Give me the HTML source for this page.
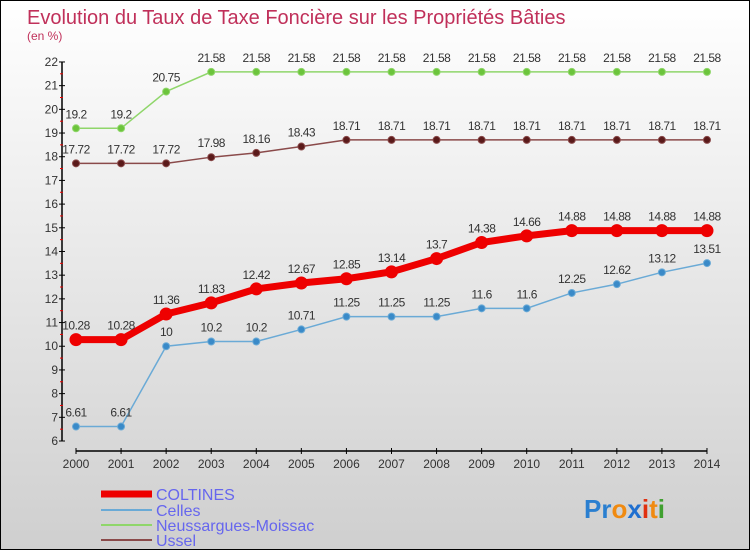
<!DOCTYPE html>
<html><head><meta charset="utf-8"><style>
body{margin:0}
#c{position:relative;width:748px;height:548px;border:1px solid #000;background:linear-gradient(#ffffff,#cfcfcf);font-family:"Liberation Sans",sans-serif;overflow:hidden}
</style></head><body>
<div id="c">
<svg id="s" width="748" height="548" style="position:absolute;left:0;top:0">
<text x="26" y="23" font-size="20" fill="#c0305a">Evolution du Taux de Taxe Foncière sur les Propriétés Bâties</text>
<text x="26" y="39" font-size="12" fill="#c0305a">(en %)</text>
<g id="axes"></g><g id="series"></g><g id="legend"></g>
<text x="583" y="517" font-size="26" font-weight="bold"><tspan fill="#2a7fd0">Pr</tspan><tspan fill="#f08a10">o</tspan><tspan fill="#1f6fd0">x</tspan><tspan fill="#e03010">i</tspan><tspan fill="#f08a10">t</tspan><tspan fill="#40a030">i</tspan></text>
</svg>
</div>
<script>
const years=[2000,2001,2002,2003,2004,2005,2006,2007,2008,2009,2010,2011,2012,2013,2014];
const coltines=[10.28,10.28,11.36,11.83,12.42,12.67,12.85,13.14,13.7,14.38,14.66,14.88,14.88,14.88,14.88];
const celles=[6.61,6.61,10,10.2,10.2,10.71,11.25,11.25,11.25,11.6,11.6,12.25,12.62,13.12,13.51];
const neuss=[19.2,19.2,20.75,21.58,21.58,21.58,21.58,21.58,21.58,21.58,21.58,21.58,21.58,21.58,21.58];
const ussel=[17.72,17.72,17.72,17.98,18.16,18.43,18.71,18.71,18.71,18.71,18.71,18.71,18.71,18.71,18.71];
const yTicks=[6,7,8,9,10,11,12,13,14,15,16,17,18,19,20,21,22];
const NS='http://www.w3.org/2000/svg';
const X=i=>75+i*45.07, Y=v=>440-(v-6)*23.69;
function mk(t,a,p){const e=document.createElementNS(NS,t);for(const k in a)e.setAttribute(k,a[k]);p.appendChild(e);return e;}
const ax=document.getElementById('axes');
let l=mk('line',{x1:61,y1:Y(22),x2:61,y2:Y(6),stroke:'#000','stroke-width':1.5},ax);

l=mk('line',{x1:X(0),y1:450,x2:X(14),y2:450,stroke:'#000','stroke-width':1.5},ax);

yTicks.forEach(v=>{mk('line',{x1:58,y1:Y(v),x2:64,y2:Y(v),stroke:'#000'},ax);
 if(v<22)mk('line',{x1:59,y1:Y(v+0.5),x2:62,y2:Y(v+0.5),stroke:'#e00'},ax);
 const t=mk('text',{x:57,y:Y(v)+4,'text-anchor':'end','font-size':12,fill:'#333'},ax);t.textContent=v;
 });
years.forEach((y,i)=>{mk('line',{x1:X(i),y1:447,x2:X(i),y2:453,stroke:'#000'},ax);
 const t=mk('text',{x:X(i),y:467,'text-anchor':'middle','font-size':12,fill:'#333'},ax);t.textContent=y;
 });
const sg=document.getElementById('series');
function series(d,color,w,r,fill,name){
 const g=mk('g',{},sg);
 mk('polyline',{points:d.map((v,i)=>X(i)+','+Y(v)).join(' '),fill:'none',stroke:color,'stroke-width':w},g);
 d.forEach((v,i)=>{const c=mk('circle',{cx:X(i),cy:Y(v),r:r,fill:fill,stroke:color,'stroke-width':1},g);
  
  const t=mk('text',{x:X(i),y:Y(v)-10,'text-anchor':'middle','font-size':12,fill:'#333','letter-spacing':'-0.5'},g);t.textContent=v;
  });
}
series(neuss,'#8fd66a',1.5,3.5,'#6cc43c','neussargues');
series(ussel,'#8a4a4a',1.5,3.5,'#5a1a1a','ussel');
series(celles,'#6aaad6',1.5,3.5,'#3a8ac8','celles');
series(coltines,'#ee0000',7,6,'#ee0000','coltines');
const lg=document.getElementById('legend');
[['COLTINES','#ee0000',7,493],['Celles','#6aaad6',2,509],['Neussargues-Moissac','#8fd66a',2,524],['Ussel','#8a4a4a',2,539]].forEach(([n,c,w,y])=>{
 const g=mk('g',{},lg);
 mk('line',{x1:100,y1:y,x2:151,y2:y,stroke:c,'stroke-width':w},g);
 const t=mk('text',{x:155,y:y+6,'font-size':16,fill:'#6666ee'},g);t.textContent=n;});
</script>
</body></html>
